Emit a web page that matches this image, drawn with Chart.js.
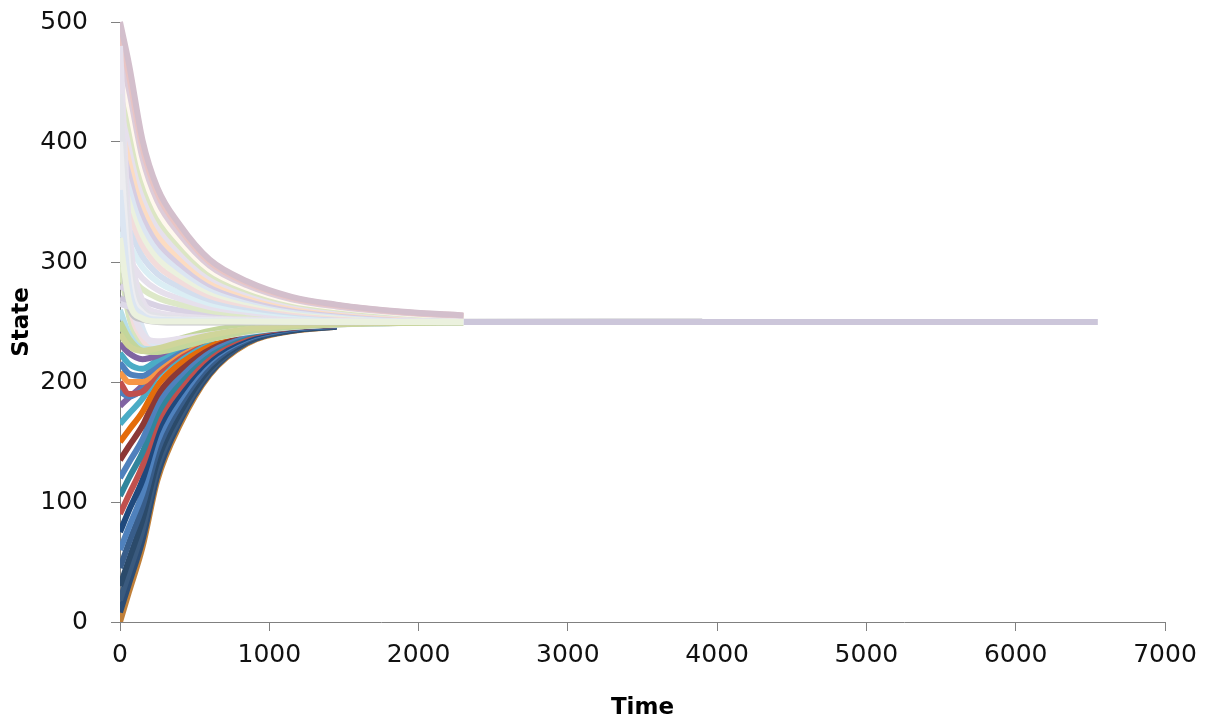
<!DOCTYPE html>
<html>
<head>
<meta charset="utf-8">
<script src="https://cdn.jsdelivr.net/npm/chart.js@4/dist/chart.umd.min.js"></script>
<style>
  html, body { margin: 0; padding: 0; background: #ffffff; }
  canvas { display: block; }
</style>
</head>
<body>
<canvas id="c" width="1210" height="722"></canvas>
<script>
// Sample times shared by every trajectory
const times = [0, 60, 150, 250, 400, 600, 850, 1150, 1450, 1900, 2300, 3900, 6550];

// Axis tick values
const xTickValues = [0, 1000, 2000, 3000, 4000, 5000, 6000, 7000];
const yTickValues = [0, 100, 200, 300, 400, 500];

// Trajectories that start below the consensus value and rise towards it
const low0  = [0, 25, 62, 118, 164, 206, 232, 242.5, 246];
const low1  = [8, 32, 68, 122, 167, 207, 233, 242.7, 246.1];
const low2  = [18, 41, 76, 128, 170, 209, 233, 243, 246.3];
const low3  = [30, 52, 85, 134, 174, 211, 234, 243.4, 246.5];
const low4  = [45, 66, 96, 142, 180, 214, 235, 243.9, 246.7];
const low5  = [60, 79, 107, 150, 185, 217, 236, 244.3, 247];
const low6  = [75, 93, 118, 158, 190, 219, 237, 244.8, 247.2];
const low7  = [90, 106, 130, 166, 195, 222, 238.5, 245.2, 247.4];
const low8  = [105, 120, 141, 173, 200, 224.5, 239.6, 245.7, 247.7];
const low9  = [120, 133, 152, 181, 205, 227, 240.6, 246.1, 247.9];
const low10 = [135, 146.5, 163.5, 189, 210, 230, 241.7, 246.6, 248.2];
const low11 = [150, 160, 175, 197, 215.6, 232.4, 242.8, 247, 248.4];
const low12 = [165, 173.5, 186, 205, 221, 235, 243.9, 247.5, 248.6];
const low13 = [180, 187, 197, 213, 226, 237.7, 245, 247.9, 248.9];
const low14 = [192, 188, 194, 210, 225, 237.5, 245, 248, 249];
const low15 = [200, 190, 192, 207, 223, 236.5, 244.5, 247.9, 249];
const low16 = [208, 200, 200, 211, 225, 237, 244.8, 248, 249];
const low17 = [216, 207, 205, 214, 227, 238, 245, 248.1, 249.1];
const low18 = [224, 215, 211, 218, 229, 239, 245.5, 248.3, 249.2];
const low19 = [232, 224, 219, 222, 231, 240, 246, 248.4, 249.3];
const low20 = [240, 232, 226, 227, 234, 241.5, 246.5, 248.6, 249.4];
const low21 = [246, 238, 231, 231, 236, 242.5, 247, 248.8, 249.5];

// Trajectories that dip under the consensus value before settling
const dip1 = [300, 255, 232, 230, 233, 238, 243, 246.5, 248.2, 249.3, 249.7];
const dip2 = [350, 270, 236, 229, 231, 236, 242, 246, 248, 249.2, 249.6];
const dip3 = [420, 300, 245, 232, 232, 236, 241.5, 245.8, 247.9, 249.1, 249.6];
const dip4 = [260, 240, 228, 227, 231, 237, 242.5, 246.3, 248.1, 249.2, 249.7];
const dip5 = [380, 283, 240, 234, 236, 239.5, 243.5, 246.8, 248.4, 249.4, 249.8];
const dip6 = [250, 236, 226, 225, 229, 235.5, 242, 246, 248, 249.2, 249.6];
const dip7 = [240, 230, 226, 228, 233, 239, 244, 247, 248.6, 249.5, 249.8];

// The longest-running trajectories
const tail1 = [330, 262, 252, 250, 249.5, 249.5, 249.6, 249.7, 249.8, 250, 250.3, 250.5];
const tail2 = [270, 266, 259, 255.5, 253.5, 252, 251.2, 250.7, 250.4, 250.2, 250.1, 250, 250];

// Trajectories that start above the consensus value and decay towards it
const high0  = [265, 262.9, 259.1, 256.7, 254.9, 253.1, 252, 251.3, 250.9, 250.5, 250.3];
const high1  = [280, 275.8, 268.2, 263.4, 259.7, 256.2, 254.1, 252.5, 251.7, 251, 250.7];
const high2  = [295, 288.7, 277.4, 270.2, 264.6, 259.4, 256.1, 253.8, 252.6, 251.5, 251];
const high3  = [310, 301.6, 286.5, 276.9, 269.4, 262.5, 258.2, 255, 253.5, 252, 251.3];
const high4  = [325, 314.5, 295.6, 283.6, 274.3, 265.6, 260.2, 256.3, 254.4, 252.6, 251.7];
const high5  = [340, 327.4, 304.7, 290.3, 279.2, 268.7, 262.2, 257.6, 255.2, 253.1, 252];
const high6  = [355, 340.3, 313.8, 297, 284, 271.8, 264.3, 258.8, 256.1, 253.6, 252.3];
const high7  = [370, 353.2, 323, 303.8, 288.9, 275, 266.3, 260.1, 257, 254.1, 252.6];
const high8  = [385, 366.1, 332.1, 310.5, 293.7, 278.1, 268.4, 261.3, 257.8, 254.6, 253];
const high9  = [400, 379, 341.2, 317.2, 298.6, 281.2, 270.4, 262.6, 258.7, 255.1, 253.3];
const high10 = [415, 391.9, 350.3, 323.9, 303.5, 284.3, 272.4, 263.9, 259.6, 255.6, 253.6];
const high11 = [430, 404.8, 359.4, 330.6, 308.3, 287.4, 274.5, 265.1, 260.4, 256.1, 254];
const high12 = [445, 417.7, 368.6, 337.4, 313.2, 290.6, 276.5, 266.4, 261.3, 256.6, 254.3];
const high13 = [460, 430.6, 377.7, 344, 318, 293.7, 278.6, 267.6, 262.2, 257.1, 254.6];
const high14 = [475, 443.5, 387, 351, 323, 297, 280.6, 268.9, 263, 257.7, 255];
const high15 = [490, 456, 396, 357.5, 328, 300, 282.6, 270.2, 263.9, 258.2, 255.3];
const high16 = [500, 465, 402, 362, 331, 302, 284, 271, 264.5, 258.5, 255.5];

// Fast-settling trajectories from high starting states
const fast1 = [480, 330, 268, 258, 255, 253, 252, 251.2, 250.7, 250.4, 250.2];
const fast2 = [440, 310, 262, 255, 253, 252, 251.3, 250.8, 250.5, 250.3, 250.2];
const fast3 = [400, 292, 258, 253, 252, 251.5, 251, 250.6, 250.4, 250.2, 250.1];
const fast4 = [360, 280, 256, 252, 251.5, 251, 250.7, 250.4, 250.3, 250.2, 250.1];
const fast5 = [320, 268, 253, 250.5, 250.5, 250.5, 250.4, 250.3, 250.2, 250.1, 250.1];

// Line colours (Office-style palette and its tints/shades)
const lowColors = ['#C0803A', '#2C4D75', '#3A5A7E', '#2B4A6A', '#385D8A', '#4F81BD',
  '#1F497D', '#C0504D', '#31859C', '#4F81BD', '#8C3836', '#E46C0A', '#4BACC6',
  '#8064A2', '#4F81BD', '#C0504D', '#F79646', '#4F81BD', '#4BACC6', '#8064A2',
  '#9BBB59', '#C3D69B'];
const dipColors = ['#D7E4BD', '#F2DCDB', '#DCE6F2', '#B7DEE8', '#E6E0EC', '#C3D69B', '#CFD59A'];
const tailColors = ['#C4C4C8', '#CCC6DA'];
const highColors = ['#DDD9E8', '#D9D2E4', '#DDE8C8', '#E6E0EC', '#DBEEF4', '#D3DEEE',
  '#F2DCDB', '#EBF1DE', '#DCE6F2', '#D6CDE2', '#FCDCC2', '#E6E0EC', '#DCE6C4',
  '#FFF8EE', '#DDCCD9', '#E9C4C3', '#D3BFCC'];
const fastColors = ['#E6E0EC', '#E2E2E8', '#EDEDF0', '#DCE6F2', '#EBF1DE'];

const lowSeries = [low0, low1, low2, low3, low4, low5, low6, low7, low8, low9, low10,
  low11, low12, low13, low14, low15, low16, low17, low18, low19, low20, low21];
const dipSeries = [dip1, dip2, dip3, dip4, dip5, dip6, dip7];
const tailSeries = [tail1, tail2];
const highSeries = [high0, high1, high2, high3, high4, high5, high6, high7, high8,
  high9, high10, high11, high12, high13, high14, high15, high16];
const fastSeries = [fast1, fast2, fast3, fast4, fast5];

// Back-to-front list of series with their colours
const layers = [];
lowSeries.forEach((s, i) => layers.push([s, lowColors[i]]));
dipSeries.forEach((s, i) => layers.push([s, dipColors[i]]));
tailSeries.forEach((s, i) => layers.push([s, tailColors[i]]));
highSeries.forEach((s, i) => layers.push([s, highColors[i]]));
fastSeries.forEach((s, i) => layers.push([s, fastColors[i]]));

// Chart.js paints dataset 0 last, so reverse to keep the back-to-front order
const datasets = layers.map(([values, color]) => ({
  data: values.map((v, i) => ({ x: times[i], y: v })),
  borderColor: color,
  backgroundColor: color,
  borderWidth: 6,
  pointRadius: 0,
  fill: false,
  cubicInterpolationMode: 'monotone',
  borderJoinStyle: 'round',
  borderCapStyle: 'butt',
  clip: { left: 0, top: false, right: false, bottom: 0 }
})).reverse();

Chart.defaults.font.family = '"DejaVu Sans", Verdana, sans-serif';
Chart.defaults.color = '#111111';

const axisColor = '#808080';
const plainNumber = v => String(v);

new Chart(document.getElementById('c'), {
  type: 'line',
  data: { datasets },
  options: {
    responsive: false,
    animation: false,
    events: [],
    layout: { padding: { left: 0, right: 45, top: 22, bottom: 0 } },
    plugins: { legend: { display: false }, tooltip: { enabled: false } },
    scales: {
      x: {
        type: 'linear',
        min: 0,
        max: 7000,
        afterBuildTicks: s => { s.ticks = xTickValues.map(v => ({ value: v })); },
        afterFit: s => { s.height = 100; },
        ticks: { font: { size: 25 }, padding: 9, maxRotation: 0, color: '#111111', callback: plainNumber },
        grid: { display: true, drawOnChartArea: false, drawTicks: true, tickLength: 9, color: axisColor },
        border: { display: true, color: axisColor, width: 1 },
        title: { display: true, text: 'Time', font: { size: 23, weight: 'bold' }, color: '#000000', padding: { top: 0, bottom: 0 } }
      },
      y: {
        type: 'linear',
        min: 0,
        max: 500,
        afterBuildTicks: s => { s.ticks = yTickValues.map(v => ({ value: v })); },
        afterFit: s => { s.width = 120; s.paddingTop = 0; s.paddingBottom = 0; },
        ticks: { font: { size: 25 }, padding: 23, color: '#111111', callback: plainNumber },
        grid: { display: true, drawOnChartArea: false, drawTicks: true, tickLength: 9, color: axisColor },
        border: { display: true, color: axisColor, width: 1 },
        title: { display: true, text: 'State', font: { size: 23, weight: 'bold' }, color: '#000000', padding: { top: 8, bottom: 0 } }
      }
    }
  }
});
</script>
</body>
</html>
